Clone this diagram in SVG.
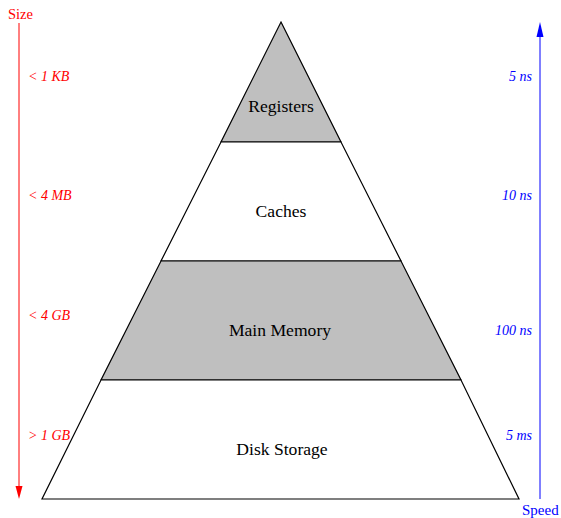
<svg xmlns="http://www.w3.org/2000/svg" width="561" height="518" viewBox="0 0 561 518">
<style>
.band{stroke:#000;stroke-width:1.2}
.lbl{font-family:"Liberation Serif",serif;font-size:17.6px;text-anchor:middle;fill:#000}
.sz{font-family:"Liberation Serif",serif;font-size:14px;font-style:italic;fill:#ff0000}
.sp{font-family:"Liberation Serif",serif;font-size:14px;font-style:italic;fill:#0000ff;text-anchor:end}
</style>
<rect width="561" height="518" fill="#fff"/>
<g id="registers"><polygon class="band" points="281,22 341,142 221,142" fill="#bfbfbf"/><text class="lbl" x="281" y="112">Registers</text></g>
<g id="caches"><polygon class="band" points="221,142 341,142 401,261 161,261" fill="#fff"/><text class="lbl" x="281" y="217">Caches</text></g>
<g id="main-memory"><polygon class="band" points="161,261 401,261 461,380 101,380" fill="#bfbfbf"/><text class="lbl" x="280" y="336">Main Memory</text></g>
<g id="disk-storage"><polygon class="band" points="101,380 461,380 519,499 42,499" fill="#fff"/><text class="lbl" x="282" y="455">Disk Storage</text></g>
<g id="connectors">
<line x1="19" y1="23" x2="19" y2="488" stroke="#ff0000" stroke-width="1"/>
<polygon points="15.5,486 22.5,486 19,499" fill="#ff0000"/>
<line x1="540" y1="499" x2="540" y2="34" stroke="#0000ff" stroke-width="1"/>
<polygon points="536.5,37 543.5,37 540,22" fill="#0000ff"/>
</g>
<g id="size-axis">
<text x="8" y="19" font-family="Liberation Serif,serif" font-size="14.5" fill="#ff0000">Size</text>
<text class="sz" x="28" y="81">&lt; 1 KB</text>
<text class="sz" x="28" y="200">&lt; 4 MB</text>
<text class="sz" x="28" y="320">&lt; 4 GB</text>
<text class="sz" x="28" y="440">&gt; 1 GB</text>
</g>
<g id="speed-axis">
<text x="522" y="515" font-family="Liberation Serif,serif" font-size="15" fill="#0000ff">Speed</text>
<text class="sp" x="532" y="81">5 ns</text>
<text class="sp" x="532" y="200">10 ns</text>
<text class="sp" x="532" y="335">100 ns</text>
<text class="sp" x="532" y="440">5 ms</text>
</g>
</svg>
